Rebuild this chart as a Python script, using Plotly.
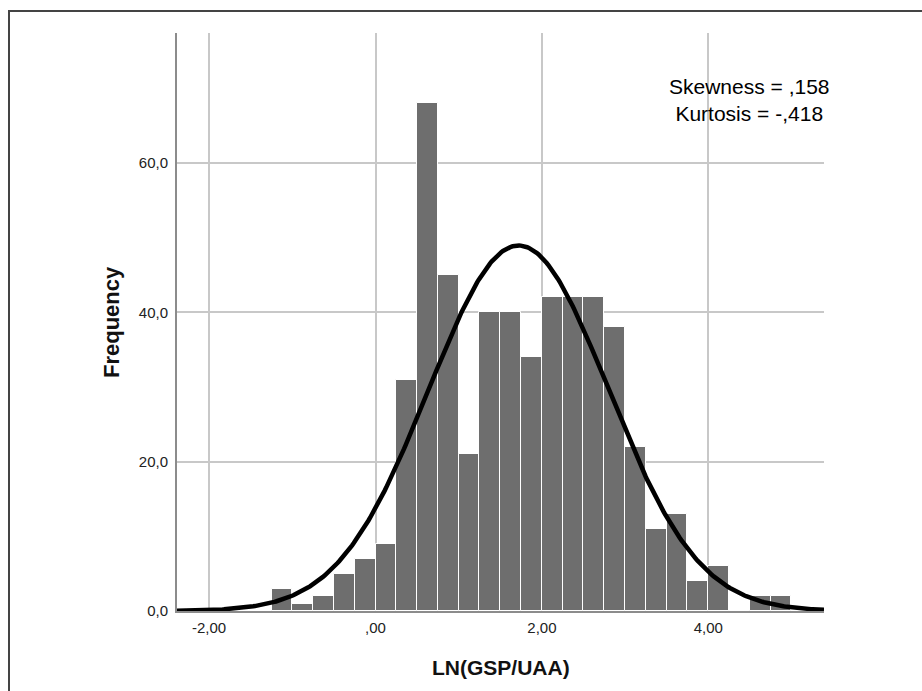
import numpy as np
import plotly.graph_objects as go

# ---- data ----
bin_starts = [-1.25, -1.00, -0.75, -0.50, -0.25, 0.00, 0.25, 0.50, 0.75, 1.00,
              1.25, 1.50, 1.75, 2.00, 2.25, 2.50, 2.75, 3.00, 3.25, 3.50,
              3.75, 4.00, 4.25, 4.50, 4.75]
counts = [3, 1, 2, 5, 7, 9, 31, 68, 45, 21,
          40, 40, 34, 42, 42, 42, 38, 22, 11, 13,
          4, 6, 0, 2, 2]
bin_width = 0.25

# fitted normal curve parameters (as shown by the curve)
fit_mean = 1.72
fit_sd = 1.08

x_tickvals = [-2, 0, 2, 4]
x_ticktext = ["-2,00", ",00", "2,00", "4,00"]
y_tickvals = [0, 20, 40, 60]
y_ticktext = ["0,0", "20,0", "40,0", "60,0"]

x_range = [-2.386, 5.391]
y_range = [0, 77.4]

stats_text = "Skewness = ,158<br>Kurtosis = -,418"

# ---- figure ----
n_total = sum(counts)
xs = np.linspace(x_range[0], x_range[1], 400)
ys = n_total * bin_width / (fit_sd * np.sqrt(2 * np.pi)) * np.exp(-0.5 * ((xs - fit_mean) / fit_sd) ** 2)

fig = go.Figure()
fig.add_trace(go.Bar(
    x=bin_starts, y=counts, width=bin_width, offset=0,
    marker=dict(color="#6e6e6e", line=dict(color="white", width=1)),
    hoverinfo="x+y", showlegend=False,
))
fig.add_trace(go.Scatter(
    x=xs, y=ys, mode="lines",
    line=dict(color="black", width=4.5),
    showlegend=False, hoverinfo="skip", cliponaxis=False,
))

fig.update_layout(
    width=922, height=691,
    margin=dict(l=177, r=98, t=33, b=80),
    paper_bgcolor="white", plot_bgcolor="white",
    font=dict(family="Liberation Sans, Arial, sans-serif", color="#222222", size=15),
    bargap=0,
)
fig.update_xaxes(
    range=x_range, tickvals=x_tickvals, ticktext=x_ticktext,
    showgrid=True, gridcolor="#c8c8c8", gridwidth=1.5,
    showline=True, linecolor="#8c8c8c", linewidth=2,
    zeroline=False, ticks="", tickfont=dict(size=15, color="#222222"),
    ticklabelstandoff=2,
)
fig.update_yaxes(
    range=y_range, tickvals=y_tickvals, ticktext=y_ticktext,
    showgrid=True, gridcolor="#c8c8c8", gridwidth=1.5,
    showline=True, linecolor="#8c8c8c", linewidth=2,
    zeroline=False, ticks="", tickfont=dict(size=15, color="#222222"),
    ticklabelstandoff=4,
)

# axis titles (placed as annotations for exact positioning)
fig.add_annotation(
    text="<b>Frequency</b>", xref="paper", yref="paper", x=0, y=0.5,
    xanchor="center", yanchor="middle", xshift=-66, textangle=-90,
    showarrow=False, font=dict(size=22, color="#111111"),
)
fig.add_annotation(
    text="<b>LN(GSP/UAA)</b>", xref="paper", yref="paper", x=0.5, y=0,
    xanchor="center", yanchor="middle", yshift=-56,
    showarrow=False, font=dict(size=21, color="#111111"),
)
# statistics text
fig.add_annotation(
    text=stats_text, xref="paper", yref="paper",
    x=(749 - 177) / 647, y=(611 - 100) / 578,
    xanchor="center", yanchor="middle", align="center",
    showarrow=False, font=dict(size=21, color="#000000"),
)

# outer frame
fig.add_shape(
    type="rect", xref="paper", yref="paper",
    x0=(9 - 177) / 647, x1=(940 - 177) / 647,
    y0=(611 - 710) / 578, y1=(611 - 11) / 578,
    line=dict(color="#444444", width=2), fillcolor="rgba(0,0,0,0)", layer="below",
)

fig.write_html("out.html")
